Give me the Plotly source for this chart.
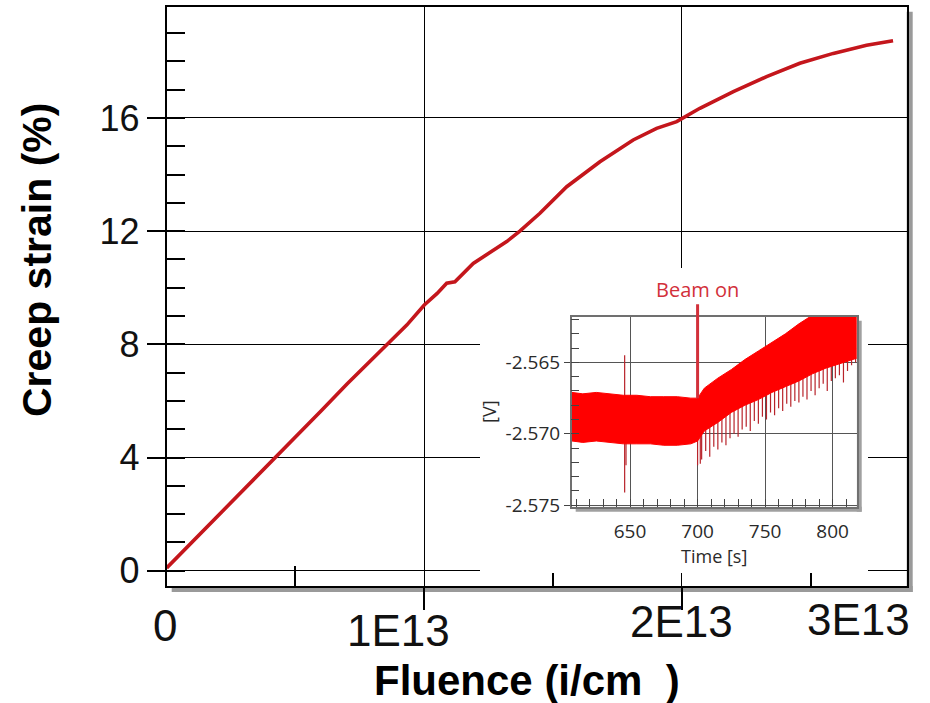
import plotly.graph_objects as go

# ---------------- data ----------------
# main curve: fluence (i/cm^2) vs creep strain (%)
fluence = [0.0, 0.10e13, 0.20e13, 0.30e13, 0.42e13, 0.50e13, 0.60e13, 0.70e13, 0.854e13,
           0.932e13, 1.0e13, 1.05e13, 1.087e13, 1.119e13, 1.19e13, 1.32e13, 1.371e13,
           1.449e13, 1.553e13, 1.682e13, 1.811e13, 1.902e13, 1.98e13, 2.008e13, 2.07e13,
           2.2e13, 2.329e13, 2.458e13, 2.588e13, 2.717e13, 2.82e13]
strain = [0.1, 1.02, 1.95, 2.9, 4.0, 4.74, 5.65, 6.6, 8.0,
          8.68, 9.39, 9.8, 10.16, 10.21, 10.86, 11.63, 12.0,
          12.63, 13.57, 14.45, 15.22, 15.63, 15.87, 16.02, 16.34,
          16.93, 17.46, 17.93, 18.28, 18.57, 18.73]

y_ticks = [0, 4, 8, 12, 16]
x_ticks = [1e13, 2e13]
x_tick_labels = ["0", "1E13", "2E13", "3E13"]

# inset: voltage signal band (envelopes) vs time (s)
env_t = [607, 615, 625, 635, 645, 655, 665, 675, 685, 695, 700, 705, 715, 725, 735,
         745, 755, 765, 775, 785, 795, 805, 818]
env_upper = [-2.5671, -2.5672, -2.5671, -2.5672, -2.5673, -2.5673, -2.5674, -2.5674,
             -2.5674, -2.5675, -2.5675, -2.5668, -2.5661, -2.5655, -2.5648, -2.5642,
             -2.5636, -2.5630, -2.5623, -2.5617, -2.5611, -2.5605, -2.5597]
env_lower = [-2.5705, -2.5706, -2.5705, -2.5706, -2.5707, -2.5707, -2.5707, -2.5708,
             -2.5708, -2.5707, -2.5705, -2.5698, -2.5692, -2.5685, -2.5680, -2.5676,
             -2.5671, -2.5667, -2.5663, -2.5658, -2.5654, -2.5651, -2.5647]
spike_t = [646, 647, 700, 702, 703, 706, 709, 712, 715, 718, 721, 724, 727, 730, 733, 736,
           739, 742, 745, 748, 751, 754, 757, 760, 763, 766, 769, 772, 775, 778, 781,
           784, 787, 790, 793, 796, 799, 802, 805, 808, 811, 814, 817]
spike_tip = [-2.5741, -2.5722, -2.5722, -2.5721, -2.5718, -2.5712, -2.5716, -2.5709,
             -2.5711, -2.5706, -2.5708, -2.5703, -2.5700, -2.5702, -2.5697, -2.5695,
             -2.5698, -2.5691, -2.5693, -2.5688, -2.5690, -2.5685, -2.5687, -2.5682,
             -2.5684, -2.5679, -2.5681, -2.5677, -2.5678, -2.5674, -2.5676, -2.5670,
             -2.5673, -2.5668, -2.5665, -2.5670, -2.5663, -2.5661, -2.5659, -2.5664,
             -2.5656, -2.5652, -2.5650]
spike_up_t = [646]
spike_up_tip = [-2.5645]
beam_t = 700
beam_v = -2.5675
inset_x_ticks = [650, 700, 750, 800]
inset_y_ticks = [-2.575, -2.570, -2.565]
inset_y_labels = ["-2.575", "-2.570", "-2.565"]

# ---------------- layout helpers ----------------
W, H = 930, 703
def fx(p):
    return p / W
def fy(p):
    return 1 - p / H

CURVE = "#c4161c"
BEAM = "#d2303a"
MAIN_FONT = "Liberation Sans, Arial, sans-serif"
INSET_FONT = "Open Sans, sans-serif"
INSET_TXT = "#2a2a2a"
SPIKE_LEN = 0.004

fig = go.Figure()

# main curve
fig.add_trace(go.Scatter(x=fluence, y=strain, mode="lines",
                         line=dict(color=CURVE, width=3.6),
                         xaxis="x", yaxis="y", showlegend=False, hoverinfo="skip"))
# backdrop subplot (white area behind the inset), pixel coordinates
fig.add_trace(go.Scatter(x=[], y=[], xaxis="x2", yaxis="y2", showlegend=False))

# inset spikes (drawn below the band)
sx, sy = [], []
for t, v in zip(spike_t, spike_tip):
    sx += [t, t, None]
    sy += [v, v + SPIKE_LEN, None]
for t, v in zip(spike_up_t, spike_up_tip):
    sx += [t, t, None]
    sy += [v, v - SPIKE_LEN, None]
fig.add_trace(go.Scatter(x=sx, y=sy, mode="lines", line=dict(color="#b8232a", width=1.2),
                         xaxis="x3", yaxis="y3", showlegend=False, hoverinfo="skip"))
fig.add_trace(go.Scatter(x=env_t, y=env_lower, mode="lines",
                         line=dict(color="#ff0000", width=1),
                         xaxis="x3", yaxis="y3", showlegend=False, hoverinfo="skip"))
fig.add_trace(go.Scatter(x=env_t, y=env_upper, mode="lines", fill="tonexty",
                         fillcolor="#ff0000", line=dict(color="#ff0000", width=1),
                         xaxis="x3", yaxis="y3", showlegend=False, hoverinfo="skip"))

# main box pixel geometry
ML, MR, MT, MB = 166.7, 906.7, 6.7, 586.0
# backdrop
BL, BR, BT, BB = 480.0, 868.0, 268.0, 573.0
# inset
IL, IR, IT, IB = 571.7, 856.7, 316.7, 506.7

fig.update_layout(
    width=W, height=H, template="none",
    margin=dict(l=0, r=0, t=0, b=0, pad=0),
    paper_bgcolor="white", plot_bgcolor="white",
    showlegend=False,
    xaxis=dict(domain=[fx(ML), fx(MR)], range=[0, 2.873e13], anchor="y",
               showline=True, linecolor="black", linewidth=2, mirror=True,
               tickmode="array", tickvals=x_ticks, showticklabels=False,
               ticks="outside", ticklen=22, tickwidth=1.5, tickcolor="black",
               showgrid=True, gridcolor="black", gridwidth=1.4, zeroline=False,
               minor=dict(tickvals=[0.5e13, 1.5e13, 2.5e13], ticks="inside", ticklen=20,
                          tickwidth=1.5, tickcolor="black", showgrid=False),
               automargin=False),
    yaxis=dict(domain=[fy(MB), fy(MT)], range=[-0.54, 19.93], anchor="x",
               showline=True, linecolor="black", linewidth=2, mirror=True,
               tickmode="array", tickvals=y_ticks,
               ticks="outside", ticklen=18, tickwidth=1.5, tickcolor="black",
               tickfont=dict(family=MAIN_FONT, size=36, color="#111111"),
               showgrid=True, gridcolor="black", gridwidth=1.4, zeroline=False,
               minor=dict(dtick=1, tick0=0, ticks="inside", ticklen=18, tickwidth=1.5,
                          tickcolor="black", showgrid=False),
               automargin=False),
    xaxis2=dict(domain=[fx(BL), fx(BR)], range=[BL, BR], anchor="y2", visible=False,
                fixedrange=True),
    yaxis2=dict(domain=[fy(BB), fy(BT)], range=[BB, BT], anchor="x2", visible=False,
                fixedrange=True),
    xaxis3=dict(domain=[fx(IL), fx(IR)], range=[606.8, 817.8], anchor="y3",
                showline=True, linecolor="#707070", linewidth=1.5, mirror=True,
                tickmode="array", tickvals=inset_x_ticks,
                ticks="inside", ticklen=8, tickwidth=1, tickcolor="#444444",
                tickfont=dict(family=INSET_FONT, size=19, color=INSET_TXT),
                showgrid=True, gridcolor="#555555", gridwidth=1, zeroline=False,
                minor=dict(dtick=10, tick0=600, ticks="inside", ticklen=8, tickwidth=1,
                           tickcolor="#444444", showgrid=False),
                ticklabelstandoff=7, automargin=False,
                title=dict(text="Time [s]", standoff=3,
                           font=dict(family=INSET_FONT, size=18, color=INSET_TXT))),
    yaxis3=dict(domain=[fy(IB), fy(IT)], range=[-2.5751, -2.5618], anchor="x3",
                showline=True, linecolor="#707070", linewidth=1.5, mirror=True,
                tickmode="array", tickvals=inset_y_ticks, ticktext=inset_y_labels,
                ticks="outside", ticklen=6, tickwidth=1, tickcolor="#444444",
                tickfont=dict(family=INSET_FONT, size=19, color=INSET_TXT),
                showgrid=True, gridcolor="#555555", gridwidth=1, zeroline=False,
                minor=dict(dtick=0.001, tick0=-2.575, ticks="inside", ticklen=8, tickwidth=1,
                           tickcolor="#444444", showgrid=False),
                automargin=False,
                title=dict(text="[V]", standoff=4,
                           font=dict(family=INSET_FONT, size=18, color=INSET_TXT))),
)

shapes = []
# main box drop shadow (paper coords, below everything)
shapes.append(dict(type="rect", xref="paper", yref="paper", layer="below",
                   x0=fx(MR), x1=fx(MR + 6), y0=fy(MB + 6), y1=fy(MT + 5),
                   fillcolor="#9a9a9a", line=dict(width=0)))
shapes.append(dict(type="rect", xref="paper", yref="paper", layer="below",
                   x0=fx(ML + 5), x1=fx(MR + 6), y0=fy(MB + 6), y1=fy(MB),
                   fillcolor="#9a9a9a", line=dict(width=0)))
# white backdrop behind inset (drawn in backdrop subplot, above main subplot)
shapes.append(dict(type="rect", xref="x2", yref="y2", layer="below",
                   x0=BL, x1=BR, y0=BB, y1=BT, fillcolor="white", line=dict(width=0)))
# inset drop shadow
shapes.append(dict(type="rect", xref="x2", yref="y2", layer="below",
                   x0=IR, x1=IR + 5, y0=IB + 5, y1=IT + 4,
                   fillcolor="#a0a0a0", line=dict(width=0)))
shapes.append(dict(type="rect", xref="x2", yref="y2", layer="below",
                   x0=IL + 4, x1=IR + 5, y0=IB + 5, y1=IB,
                   fillcolor="#a0a0a0", line=dict(width=0)))
fig.update_layout(shapes=shapes)

annotations = []
# x tick labels of the main chart (placed as in the reference)
label_px = [(165, 625), (398, 630), (681, 621), (858, 619)]
for txt, (px, py) in zip(x_tick_labels, label_px):
    annotations.append(dict(text=txt, xref="paper", yref="paper", x=fx(px), y=fy(py),
                            xanchor="center", yanchor="middle", showarrow=False,
                            font=dict(family=MAIN_FONT, size=44, color="#111111")))
# axis titles of the main chart
annotations.append(dict(text="<b>Fluence (i/cm\u00a0\u00a0)</b>", xref="paper", yref="paper",
                        x=fx(527), y=fy(680), xanchor="center", yanchor="middle",
                        showarrow=False,
                        font=dict(family=MAIN_FONT, size=42, color="black")))
annotations.append(dict(text="<b>Creep strain (%)</b>", xref="paper", yref="paper",
                        x=fx(37), y=fy(260), xanchor="center", yanchor="middle",
                        textangle=-90, showarrow=False,
                        font=dict(family=MAIN_FONT, size=41, color="black")))
# "Beam on" marker
annotations.append(dict(text="Beam on", x=beam_t, y=beam_v, xref="x3", yref="y3",
                        showarrow=True, arrowhead=0, arrowwidth=3, arrowcolor=BEAM,
                        ax=0, ay=-109, standoff=0,
                        font=dict(family=INSET_FONT, size=20, color=BEAM)))
fig.update_layout(annotations=annotations)

fig.write_html("out.html", config={"displayModeBar": False},
               post_script="document.body.style.margin='0';document.body.style.overflow='hidden';")
